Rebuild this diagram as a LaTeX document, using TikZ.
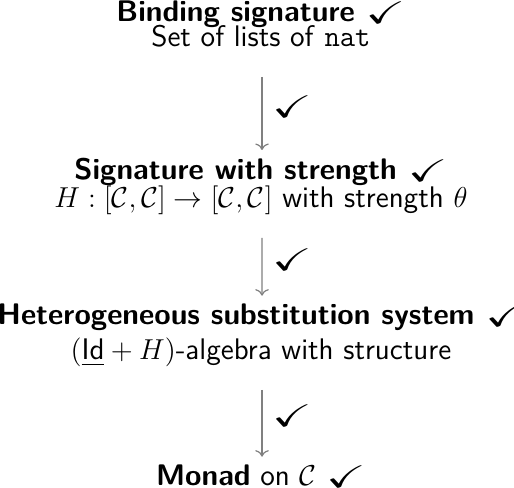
\documentclass[tikz,border=0pt,12pt]{standalone}
\usepackage{fontspec}
\usepackage{amsmath,amssymb}
\usepackage{tikz}
\usetikzlibrary{arrows.meta}
\renewcommand{\familydefault}{\sfdefault}
\newcommand{\diagfont}{\fontsize{12.4}{15}\selectfont}
\newcommand{\tick}{\raisebox{-0.6pt}{\scalebox{1.6}[1.05]{$\checkmark$}}}

\tikzset{
  title/.style={anchor=base,inner sep=0pt,font=\diagfont\bfseries},
  sub/.style={anchor=base,inner sep=0pt,text depth=0pt,font=\diagfont},
  flow/.style={->,gray,line width=0.5pt,shorten <=0.43cm,shorten >=0.12cm},
  tickmark/.style={right,black,inner sep=4pt,yshift=-0.05cm,font=\diagfont},
}

\begin{document}
\begin{tikzpicture}[>=To]
  \useasboundingbox (0,0) rectangle (7.525,-7.13);
  \node[title] (bind) at (3.82,-0.322) {Binding signature \mdseries\tick};
  \node[sub] (bindsub) at (3.82,-0.688) {Set of lists of \texttt{nat}};
  \node[title] (strong) at (3.82,-2.635) {Signature with strength \mdseries\tick};
  \node[sub] (strongsub) at (3.82,-3.045) {$H : [\mathcal{C},\mathcal{C}] \to [\mathcal{C},\mathcal{C}]$ with strength $\theta$};
  \node[title] (hss) at (3.825,-4.758) {Heterogeneous substitution system \mdseries\tick};
  \node[sub] (hsssub) at (3.82,-5.27) {$(\underline{\mathsf{Id}} + H)$-algebra with structure};
  \node[sub] (monad) at (3.82,-7.115) {\textbf{Monad} on $\mathcal{C}$ \tick};
  % arrows between the levels
  \draw[flow] ([xshift=0.016cm]bindsub.south) -- ([xshift=0.016cm]strong.north) node[midway,tickmark] {\tick};
  \draw[flow] ([xshift=0.016cm]strongsub.south) -- ([xshift=0.011cm]hss.north) node[midway,tickmark] {\tick};
  \draw[flow] ([xshift=0.016cm]hsssub.south) -- ([xshift=0.016cm]monad.north) node[midway,tickmark] {\tick};
\end{tikzpicture}
\end{document}
